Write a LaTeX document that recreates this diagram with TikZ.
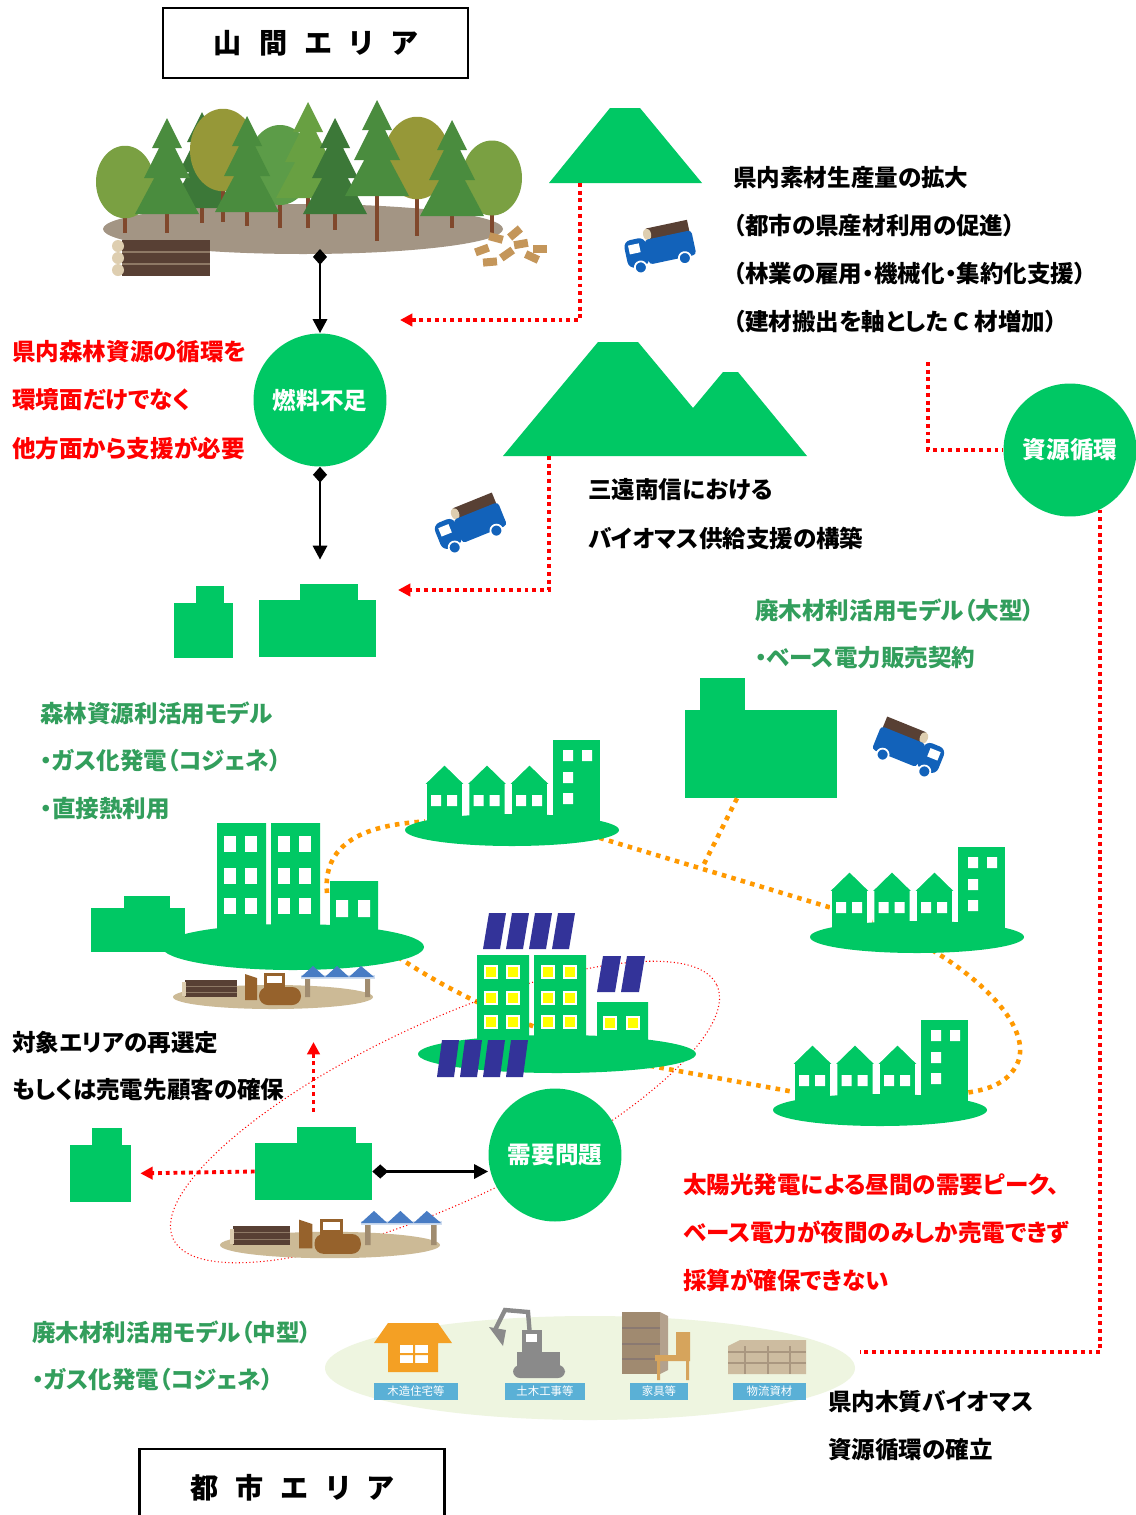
\documentclass[tikz,border=0pt]{standalone}
\usepackage{fontspec}
\setmainfont{Noto Sans CJK JP}[RawFeature=+palt]
\usetikzlibrary{arrows.meta}

\definecolor{leaf}{RGB}{0,200,100}
\definecolor{modelgreen}{RGB}{50,158,92}
\definecolor{route}{RGB}{255,153,0}
\definecolor{panel}{RGB}{51,51,153}
\definecolor{lamp}{RGB}{255,255,0}
\definecolor{lorry}{RGB}{18,98,186}
\definecolor{bark}{RGB}{88,64,52}
\definecolor{sawn}{RGB}{222,206,176}
\definecolor{soil}{RGB}{163,149,132}
\definecolor{sand}{RGB}{204,186,150}
\definecolor{dozer}{RGB}{150,98,44}
\definecolor{tent}{RGB}{72,124,196}
\definecolor{post}{RGB}{160,140,112}
\definecolor{mist}{RGB}{238,245,224}
\definecolor{amber}{RGB}{244,160,36}
\definecolor{rig}{RGB}{138,138,138}
\definecolor{chest}{RGB}{160,138,112}
\definecolor{chair}{RGB}{214,164,92}
\definecolor{pallet}{RGB}{205,188,160}
\definecolor{sky}{RGB}{90,176,214}
\definecolor{stem}{RGB}{128,72,44}
\definecolor{chip}{RGB}{196,150,90}
\definecolor{pineA}{RGB}{74,140,62}
\definecolor{pineB}{RGB}{60,120,56}
\definecolor{pineC}{RGB}{104,160,66}
\definecolor{oakA}{RGB}{122,160,66}
\definecolor{oakB}{RGB}{150,152,56}
\definecolor{oakC}{RGB}{92,156,72}

% trees of the forest: x, top, trunk foot, colour
\newcommand\conifer[4]{%
  \fill[stem] (#1-2,#2+60) rectangle (#1+2,#3);
  \fill[#4] (#1,#2) -- (#1+15,#2+30) -- (#1-15,#2+30) -- cycle
            (#1,#2+14) -- (#1+23,#2+60) -- (#1-23,#2+60) -- cycle
            (#1,#2+36) -- (#1+32,#2+96) -- (#1-32,#2+96) -- cycle;
}
% x, centre, radius, trunk foot, colour
\newcommand\broadleaf[5]{%
  \fill[stem] (#1-2,#2) rectangle (#1+2,#4);
  \fill[#5] (#1,#2) ellipse [x radius=#3, y radius=1.25*#3];
}

\tikzset{
  every node/.style={font=\bfseries\fontsize{13.4}{16}\selectfont},
  note/.style={anchor=west, inner sep=0pt},
  warn/.style={note, text=red},
  model/.style={note, text=modelgreen},
  hub/.style={circle, fill=leaf, text=white, minimum size=2.66cm, inner sep=0pt},
  plant/.style={fill=leaf, inner sep=0pt},
  area/.style={draw, line width=1.2pt, minimum width=6.1cm, minimum height=1.4cm,
    font=\bfseries\fontsize{16}{18}\selectfont},
  tag/.style={fill=sky, text=white, inner sep=0pt, minimum height=0.34cm,
    font=\fontsize{6.5}{7}\selectfont},
  link/.style={line width=1.7pt, {Diamond[length=9pt,width=8pt]}-{Triangle[length=8pt,width=8pt]}},
  supply/.style={red, line width=2.2pt, dash pattern=on 2.2pt off 2.2pt},
  feed/.style={supply, -{Triangle[length=7pt,width=7pt]}},
  flow/.style={route, line width=2.6pt, dash pattern=on 2.6pt off 3pt},
  loop/.style={red, line width=0.6pt, dash pattern=on 0.6pt off 1.4pt},
  townrow/.pic={
    \foreach \h in {0,1,2}{
      \pgfmathsetmacro\a{-86+42.5*\h}
      \filldraw[fill=leaf, draw=white, line width=1.1pt] (\a,-6) -- (\a,-45) -- (\a-3,-45)
        -- (\a+18.5,-66) -- (\a+40,-45) -- (\a+37,-45) -- (\a+37,-6) -- cycle;
      \fill[white] (\a+5,-35) rectangle ++(10,11) (\a+21,-35) rectangle ++(10,11);
    }
    \fill[leaf] (41,-4) rectangle (88,-90);
    \fill[white] (51,-80) rectangle ++(10,11) (70,-80) rectangle ++(10,11)
      (51,-58) rectangle ++(10,11) (51,-37) rectangle ++(10,11);
    \fill[leaf] (0,0) ellipse [x radius=107, y radius=16];
  },
  yard/.pic={
    \fill[sand] (0,0) ellipse [x radius=100, y radius=12];
    \fill[bark] (-88,-17) rectangle (-36,0);
    \draw[sawn!40!bark, line width=0.5pt] (-88,-11) -- (-36,-11) (-88,-5) -- (-36,-5);
    \fill[sawn] (-91,-15) rectangle (-87,-1);
    \fill[dozer] (-28,-23) -- (-16,-19) -- (-16,3) -- (-28,3) -- cycle;
    \fill[dozer] (-9,-24) rectangle (12,-8);
    \fill[white] (-6,-21) rectangle (9,-14);
    \fill[dozer, rounded corners=5] (-14,-10) rectangle (28,8);
    \fill[post] (32,-20) rectangle (37,0) (92,-20) rectangle (97,0);
    \fill[tent!25] (28,-22) rectangle (102,-18);
    \fill[tent] (28,-20) -- (40,-31) -- (52,-20) -- (64,-31) -- (76,-20) -- (88,-31) -- (101,-20) -- cycle;
  },
  truck/.pic={
    \fill[bark] (-10,-21) rectangle (32,-9);
    \fill[sawn] (-10,-15) ellipse [x radius=4, y radius=6];
    \fill[lorry, rounded corners=2] (-14,-10) rectangle (34,15);
    \fill[lorry, rounded corners=4] (-35,-13) rectangle (-13,15);
    \fill[white] (-31,-8) rectangle (-20,1);
    \filldraw[fill=lorry, draw=white, line width=1pt] (-23,16) circle (6) (22,16) circle (6);
  }
}

\begin{document}
\begin{tikzpicture}[x=0.02cm, y=-0.02cm]
  \useasboundingbox (0,0) rectangle (1136,1515);
  \fill[white] (0,0) rectangle (1136,1515);

  \node[area] (hills) at (315.5,43) {山\hspace{10pt}間\hspace{10pt}エ\hspace{10pt}リ\hspace{10pt}ア};
  \node[area, anchor=north, minimum height=1.55cm] (town) at (292,1448)
    {都\hspace{10pt}市\hspace{10pt}エ\hspace{10pt}リ\hspace{10pt}ア};

  % forest
  \fill[soil] (303,229) ellipse [x radius=200, y radius=25];
  \broadleaf{125}{182}{29}{233}{oakA}
  \conifer{202}{112}{223}{pineB}
  \broadleaf{223}{150}{33}{222}{oakB}
  \broadleaf{280}{165}{32}{228}{oakC}
  \conifer{167}{118}{233}{pineA}
  \conifer{247}{116}{226}{pineA}
  \broadleaf{417}{158}{33}{236}{oakB}
  \conifer{308}{102}{228}{pineC}
  \conifer{335}{118}{230}{pineB}
  \broadleaf{492}{178}{30}{237}{oakA}
  \conifer{377}{100}{241}{pineA}
  \conifer{452}{120}{228}{pineA}
  \fill[bark] (122,240) rectangle (210,276);
  \draw[sawn!40!bark, line width=0.8pt] (122,252) -- (210,252) (122,264) -- (210,264);
  \fill[sawn] (118,246) circle (6) (118,258) circle (6) (118,270) circle (6);
  \foreach \cx/\cy/\r in {482/250/20, 496/238/-15, 507/254/35, 521/244/10,
                          532/257/-25, 490/262/5, 515/233/40, 540/249/0}
    \fill[chip, rotate around={\r:(\cx,\cy)}] (\cx-7,\cy-4) rectangle (\cx+7,\cy+4);
  \coordinate (forestfoot) at (320,249);

  % mountains
  \fill[leaf] (549,183) -- (610,108) -- (640,108) -- (702,183) -- cycle;
  \fill[leaf] (503,456) -- (598,342) -- (638,342) -- (693,408) -- (723,372) -- (738,372) -- (807,456) -- cycle;
  \coordinate (ridgefoot) at (580,183);
  \coordinate (rangefoot) at (549,456);

  \pic[rotate=12] at (660,247) {truck};
  \pic[rotate=22] at (470,524) {truck};
  \pic[rotate=-22, xscale=-1] at (909,748) {truck};

  % plants
  \fill[leaf] (196,586) rectangle (224,604);
  \node[plant, minimum width=1.18cm, minimum height=1.1cm] (chipmill) at (203.5,630.5) {};
  \fill[leaf] (300,584) rectangle (358,601);
  \node[plant, minimum width=2.34cm, minimum height=1.14cm] (mill) at (317.5,628.5) {};
  \fill[leaf] (700,678) rectangle (745,711);
  \node[plant, minimum width=3.04cm, minimum height=1.76cm] (bigmill) at (761,754) {};
  \fill[leaf] (297,1127) rectangle (356,1144);
  \node[plant, minimum width=2.34cm, minimum height=1.14cm] (lowmill) at (313.5,1171.5) {};
  \fill[leaf] (92,1128) rectangle (122,1146);
  \node[plant, minimum width=1.22cm, minimum height=1.14cm] (smallmill) at (100.5,1173.5) {};

  % heat and power routes
  \coordinate (w1) at (327,893);
  \draw[flow] (w1) .. controls (322,840) and (370,822) .. (440,821);
  \draw[flow] (590,835) -- (875,921);
  \draw[flow] ([xshift=-0.48cm]bigmill.south) -- (703,866);
  \draw[flow] (932,950) .. controls (990,985) and (1030,1030) .. (1018,1062)
    .. controls (1008,1085) and (985,1090) .. (965,1093);
  \draw[flow] (640,1064) -- (800,1093);
  \draw[flow] (398,957) .. controls (440,985) and (480,1005) .. (535,1027);
  \draw[loop, rotate around={25:(445,1112)}] (445,1112) ellipse [x radius=300, y radius=90];

  % hubs
  \node[hub] (fuel) at (320,400) {燃料不足};
  \node[hub] (cycle) at (1070,450) {資源循環};
  \node[hub] (demand) at (555,1155) {需要問題};

  % towns
  \pic at (512,830) {townrow};
  \pic at (917,937) {townrow};
  \pic at (880,1110) {townrow};

  % city block on the left
  \fill[leaf] (124,896) rectangle (170,910);
  \node[plant, minimum width=1.88cm, minimum height=0.88cm] (leftmill) at (138,930) {};
  \fill[leaf] (217,823) rectangle (266,935) (271,823) rectangle (320,935) (330,881) rectangle (378,935);
  \foreach \c in {224,245,278,299}
    \foreach \r in {836,868,898}
      \fill[white] (\c,\r) rectangle ++(12,16);
  \fill[white] (336,900) rectangle ++(12,17) (358,900) rectangle ++(12,17);
  \fill[leaf] (293,947) ellipse [x radius=131, y radius=23];
  \pic at (273,997) {yard};
  \pic[scale=1.1] at (330,1245) {yard};

  % solar block
  \fill[leaf] (477,955) rectangle (529,1045) (534,955) rectangle (586,1045) (597,1002) rectangle (648,1045);
  \foreach \c in {485,507,542,564}
    \foreach \r in {966,992,1016}{
      \fill[white] (\c-1,\r-1) rectangle ++(14,14);
      \fill[lamp] (\c+1,\r+1) rectangle ++(10,10);
    }
  \foreach \c in {604,627}{
    \fill[white] (\c-1,1016) rectangle ++(14,14);
    \fill[lamp] (\c+1,1018) rectangle ++(10,10);
  }
  \fill[leaf] (557,1054) ellipse [x radius=139, y radius=19];
  \foreach \p in {483,506,529,552}
    \fill[panel] (\p,949) -- (\p+6,913) -- (\p+23,913) -- (\p+17,949) -- cycle;
  \foreach \p in {597,621}
    \fill[panel] (\p,992) -- (\p+6,956) -- (\p+24,956) -- (\p+18,992) -- cycle;
  \foreach \p in {437,460,483,506}
    \fill[panel] (\p,1077) -- (\p+5,1040) -- (\p+22,1040) -- (\p+17,1077) -- cycle;

  % supply lines
  \coordinate (fueldrop) at (400,320);
  \coordinate (milldrop) at (398,590);
  \coordinate (yieldnote) at (928,362);
  \coordinate (bandnote) at (860,1352);
  \coordinate (reselect) at (313.5,1042);
  \draw[feed] (ridgefoot) |- (fueldrop);
  \draw[feed] (rangefoot) |- (milldrop);
  \draw[supply] (yieldnote) |- (cycle.west);
  \draw[supply] (cycle.-63) |- (bandnote);
  \draw[feed, shorten >=0.18cm] (lowmill.west) -- (smallmill.east);
  \draw[feed, shorten <=0.62cm] (lowmill.north) -- (reselect);

  \draw[link] (forestfoot) -- (fuel.north);
  \draw[link, shorten >=0.8cm] (fuel.south) -- (fuel.south |- mill.north);
  \draw[link] (lowmill.east) -- (lowmill.east -| demand.west);

  % wood uses in the city
  \fill[mist] (590,1368) ellipse [x radius=265, y radius=52];
  \fill[amber] (388,1323) -- (438,1323) -- (452,1343) -- (438,1343) -- (438,1372)
    -- (388,1372) -- (388,1343) -- (374,1343) -- cycle;
  \fill[white] (400,1345) rectangle (428,1363);
  \fill[amber] (413,1345) rectangle (415,1363) (400,1353) rectangle (428,1355);
  \draw[rig, line width=2.5pt] (530,1336) -- (528,1312) -- (505,1310) -- (495,1330);
  \fill[rig] (489,1327) -- (506,1330) -- (503,1346) -- cycle;
  \fill[rig] (522,1330) rectangle (542,1352);
  \fill[white] (526,1334) rectangle (537,1342);
  \fill[rig] (517,1352) rectangle (560,1370);
  \fill[rig, rounded corners=4] (513,1365) rectangle (565,1378);
  \fill[chest] (622,1312) rectangle (660,1374);
  \fill[chest!80!white] (660,1312) -- (668,1316) -- (668,1370) -- (660,1374) -- cycle;
  \draw[bark!70, line width=0.6pt] (622,1328) -- (660,1328) (622,1344) -- (660,1344) (622,1359) -- (660,1359);
  \fill[chair] (676,1332) rectangle (690,1358) (655,1355) rectangle (690,1361)
    (657,1361) rectangle (660,1380) (686,1361) rectangle (689,1380);
  \fill[pallet] (728,1346) -- (740,1340) -- (806,1340) -- (806,1374) -- (728,1374) -- cycle;
  \draw[pallet!70!bark, line width=0.6pt] (728,1352) -- (806,1352) (728,1363) -- (806,1363)
    (745,1346) -- (745,1374) (768,1346) -- (768,1374) (790,1346) -- (790,1374);
  \node[tag, minimum width=1.68cm] (housetag) at (416,1391.5) {木造住宅等};
  \node[tag, minimum width=1.6cm] (worktag) at (545,1391.5) {土木工事等};
  \node[tag, minimum width=1.16cm] (furntag) at (659,1391.5) {家具等};
  \node[tag, minimum width=1.46cm] (palltag) at (769.5,1391.5) {物流資材};

  % notes
  \node[note] (growth) at (733,178) {県内素材生産量の拡大};
  \node[note] (citywood) at (733,226) {（都市の県産材利用の促進）};
  \node[note] (forestry) at (733,274) {（林業の雇用・機械化・集約化支援）};
  \node[note] (cwood) at (733,322) {（建材搬出を軸とした C 材増加）};
  \node[note] (sanen) at (588,490) {三遠南信における};
  \node[note] (supplyweb) at (588,538) {バイオマス供給支援の構築};
  \node[note] (reselectmsg) at (12,1043) {対象エリアの再選定};
  \node[note] (buyermsg) at (12,1090) {もしくは売電先顧客の確保};
  \node[note] (biomass) at (828,1402) {県内木質バイオマス};
  \node[note] (loopmsg) at (828,1450) {資源循環の確立};

  \node[warn] (forestmsg) at (12,352) {県内森林資源の循環を};
  \node[warn] (envmsg) at (12,400) {環境面だけでなく};
  \node[warn] (helpmsg) at (12,448) {他方面から支援が必要};
  \node[warn] (peakmsg) at (683,1185) {太陽光発電による昼間の需要ピーク、};
  \node[warn] (nightmsg) at (683,1232) {ベース電力が夜間のみしか売電できず};
  \node[warn] (costmsg) at (683,1280) {採算が確保できない};

  \node[model] (bigmodel) at (755,610) {廃木材利活用モデル（大型）};
  \node[model] (basemodel) at (755,658) {・ベース電力販売契約};
  \node[model] (forestmodel) at (40,713) {森林資源利活用モデル};
  \node[model] (gasmodel) at (40,761) {・ガス化発電（コジェネ）};
  \node[model] (heatmodel) at (40,809) {・直接熱利用};
  \node[model] (midmodel) at (32,1332) {廃木材利活用モデル（中型）};
  \node[model] (midgas) at (32,1380) {・ガス化発電（コジェネ）};
\end{tikzpicture}
\end{document}
